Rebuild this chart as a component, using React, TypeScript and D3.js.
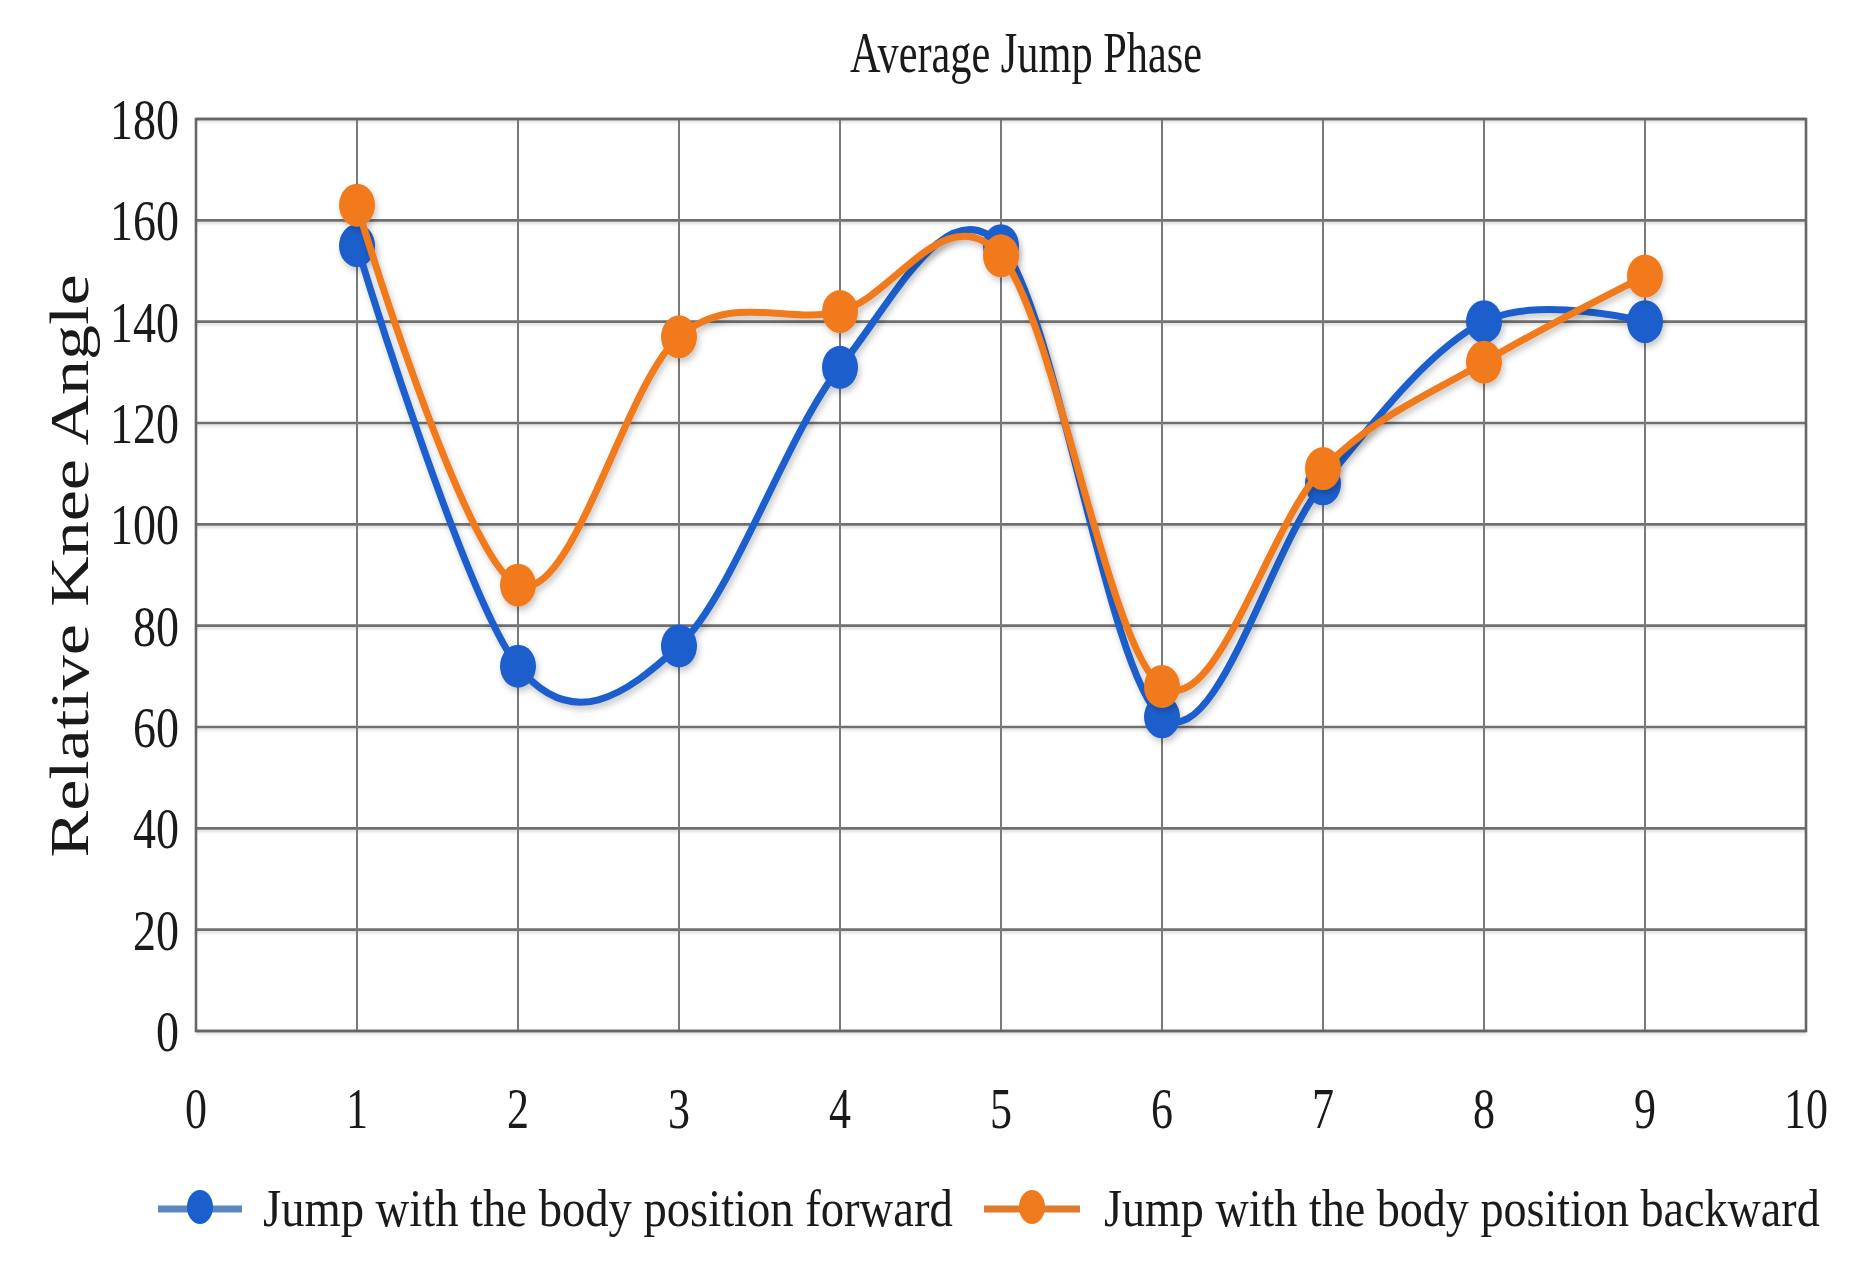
import React, { useLayoutEffect, useRef, useState } from 'react';
import * as d3 from 'd3';

const phases = [1, 2, 3, 4, 5, 6, 7, 8, 9];
const forwardValues = [155, 72, 76, 131, 155, 62, 108, 140, 140];
const backwardValues = [163, 88, 137, 142, 153, 68, 111, 132, 149];
const xTicks = [0, 1, 2, 3, 4, 5, 6, 7, 8, 9, 10];
const yTicks = [0, 20, 40, 60, 80, 100, 120, 140, 160, 180];
const seriesNames = ['Jump with the body position forward', 'Jump with the body position backward'];
const seriesColors = ['#1b5fcc', '#f07a1e'];
const legendLineColors = ['#5b86bf', '#e07a2c'];
const chartTitle = 'Average Jump Phase';
const yAxisTitle = 'Relative Knee Angle';

const W = 1862;
const H = 1262;
const FONT = '"Liberation Serif", "DejaVu Serif", serif';

type FitProps = {
  x: number;
  y: number;
  width: number;
  fontSize: number;
  anchor?: 'start' | 'middle' | 'end';
  rotate?: number;
  text: string;
};

function FitText({ x, y, width, fontSize, anchor = 'start', rotate = 0, text }: FitProps) {
  const ref = useRef<SVGTextElement>(null);
  const [scale, setScale] = useState(1);
  useLayoutEffect(() => {
    if (ref.current) {
      const w = ref.current.getComputedTextLength();
      if (w > 0) setScale(width / w);
    }
  }, [text, width, fontSize]);
  return (
    <g transform={`translate(${x},${y}) rotate(${rotate}) scale(${scale},1)`}>
      <text ref={ref} x={0} y={0} textAnchor={anchor} fontFamily={FONT} fontSize={fontSize} fill="#1a1a1a">
        {text}
      </text>
    </g>
  );
}

export default function App() {
  const x = d3.scaleLinear().domain([0, 10]).range([196, 1806]);
  const y = d3.scaleLinear().domain([0, 180]).range([1031, 119]);
  const line = d3
    .line<[number, number]>()
    .x((d) => x(d[0]))
    .y((d) => y(d[1]))
    .curve(d3.curveCardinal.tension(0));

  const series = [forwardValues, backwardValues].map((vals) =>
    phases.map((p, i) => [p, vals[i]] as [number, number])
  );

  const digitW = 23;

  return (
    <svg
      width={W}
      height={H}
      viewBox={`0 0 ${W} ${H}`}
      style={{ position: 'absolute', left: 0, top: 0, display: 'block', background: '#fff' }}
    >
      <defs>
        <filter id="shadow" x="-10%" y="-10%" width="120%" height="120%">
          <feDropShadow dx="2" dy="4" stdDeviation="3" floodColor="#000" floodOpacity="0.22" />
        </filter>
        <filter id="gshadow" x="-5%" y="-50%" width="110%" height="200%">
          <feDropShadow dx="0" dy="2" stdDeviation="1.5" floodColor="#000" floodOpacity="0.15" />
        </filter>
      </defs>
      <rect x={0} y={0} width={W} height={H} fill="#fff" />

      {/* title */}
      <FitText x={1026} y={72} width={352} fontSize={56} anchor="middle" text={chartTitle} />

      {/* grid */}
      <g filter="url(#gshadow)">
        {yTicks.map((t) => (
          <line key={'h' + t} x1={x(0)} x2={x(10)} y1={y(t)} y2={y(t)} stroke="#6f6f6f" strokeWidth={2.6} />
        ))}
      </g>
      {xTicks.map((t) => (
        <line key={'v' + t} x1={x(t)} x2={x(t)} y1={y(180)} y2={y(0)} stroke="#7a7a7a" strokeWidth={2} />
      ))}
      <rect x={x(0)} y={y(180)} width={x(10) - x(0)} height={y(0) - y(180)} fill="none" stroke="#666" strokeWidth={2.6} />

      {/* y tick labels */}
      {yTicks.map((t) => (
        <FitText
          key={'yl' + t}
          x={179}
          y={y(t) + 20}
          width={String(t).length * digitW}
          fontSize={58}
          anchor="end"
          text={String(t)}
        />
      ))}

      {/* x tick labels */}
      {xTicks.map((t) => (
        <FitText
          key={'xl' + t}
          x={x(t)}
          y={1128}
          width={String(t).length * (digitW - 1)}
          fontSize={58}
          anchor="middle"
          text={String(t)}
        />
      ))}

      {/* y axis title */}
      <FitText x={88} y={566} width={583} fontSize={54} anchor="middle" rotate={-90} text={yAxisTitle} />

      {/* series */}
      {series.map((pts, si) => (
        <g key={'s' + si} filter="url(#shadow)">
          <path d={line(pts) || ''} fill="none" stroke={seriesColors[si]} strokeWidth={7} strokeLinecap="round" />
          {pts.map((p, i) => (
            <ellipse key={'m' + si + i} cx={x(p[0])} cy={y(p[1])} rx={18} ry={21.5} fill={seriesColors[si]} />
          ))}
        </g>
      ))}

      {/* legend */}
      {[0, 1].map((si) => {
        const lx = si === 0 ? 158 : 984;
        const lw = si === 0 ? 84 : 96;
        const tx = si === 0 ? 263 : 1104;
        const tl = si === 0 ? 690 : 716;
        const cy = 1209;
        return (
          <g key={'lg' + si}>
            <line x1={lx} x2={lx + lw} y1={cy} y2={cy} stroke={legendLineColors[si]} strokeWidth={7} />
            <ellipse cx={lx + lw / 2} cy={cy - 2} rx={13} ry={17} fill={seriesColors[si]} />
            <FitText x={tx} y={1226} width={tl} fontSize={52} text={seriesNames[si]} />
          </g>
        );
      })}
    </svg>
  );
}
